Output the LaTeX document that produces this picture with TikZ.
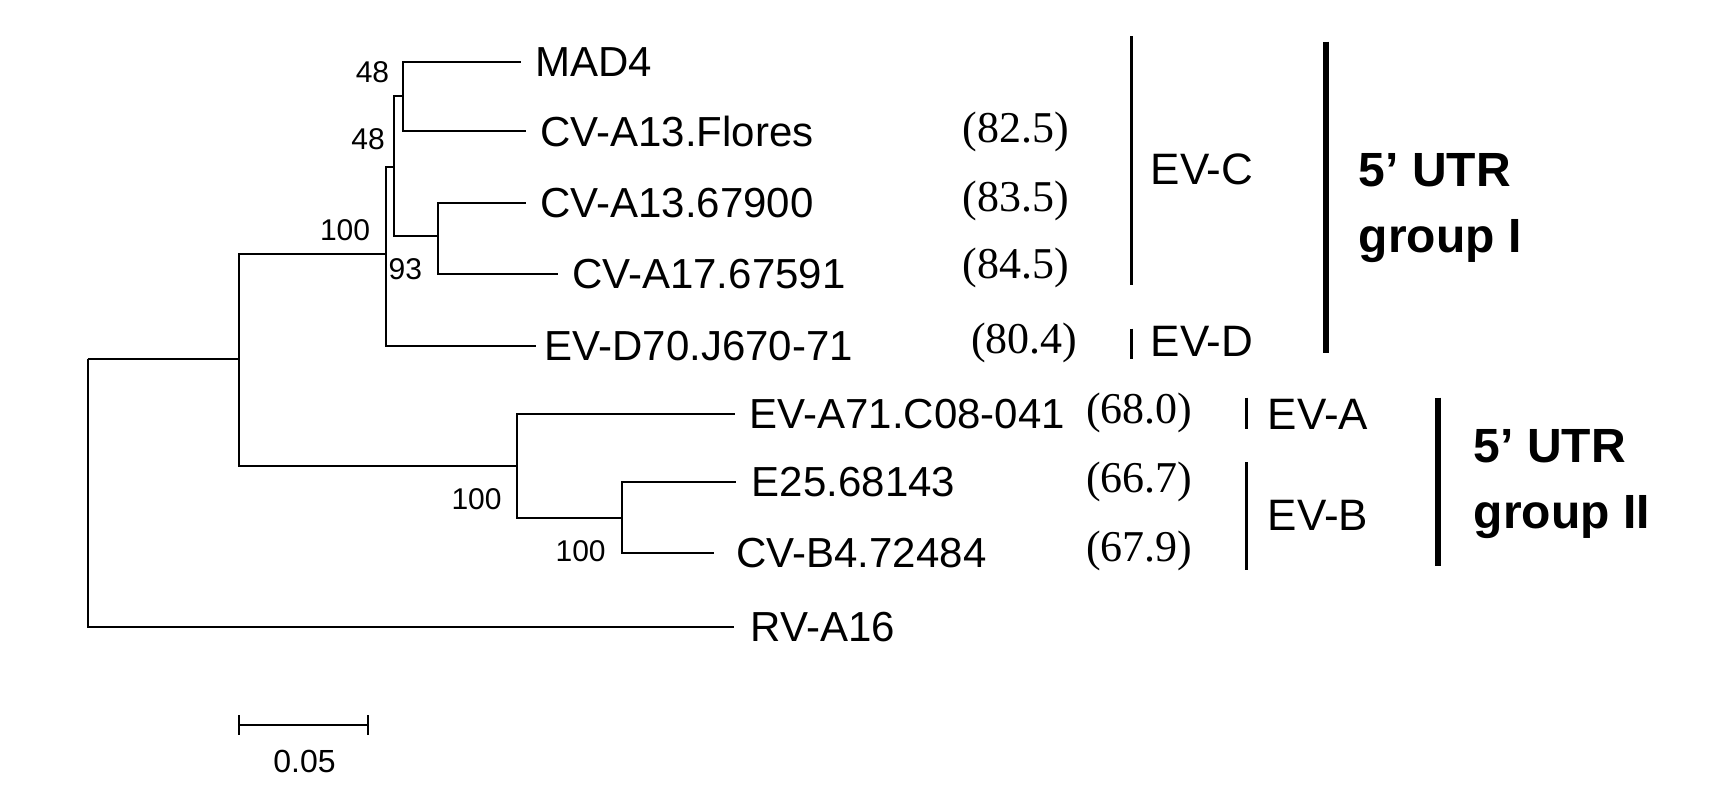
\documentclass[tikz,border=0pt]{standalone}
\usepackage{fontspec}
\setmainfont{Liberation Sans}
\newfontfamily\timesfont{Liberation Serif}
\tikzset{
  leaf/.style={anchor=west,inner sep=0pt,font=\fontsize{21}{24}\selectfont},
  boot/.style={inner sep=0pt,font=\fontsize{15}{17}\selectfont},
  pct/.style={inner sep=0pt,font=\timesfont\fontsize{22}{25}\selectfont},
  clade/.style={anchor=west,inner sep=0pt,font=\fontsize{22}{25}\selectfont},
  group/.style={anchor=west,align=left,inner sep=0pt,font=\bfseries\fontsize{24}{33}\selectfont},
  branch/.style={line width=1pt},
}
\begin{document}
\begin{tikzpicture}[x=0.5478pt,y=-0.5478pt]
\useasboundingbox (0,0) rectangle (1560,730);
% branch points
\coordinate (root) at (80,328);
\coordinate (nA) at (218,328);
\coordinate (nI) at (352,232);
\coordinate (nC) at (360,152);
\coordinate (nM) at (368,88);
\coordinate (nF) at (400,215);
\coordinate (nII) at (472,425);
\coordinate (nB) at (568,473);
% leaves
\node (mad) [leaf] at (488,57) {MAD4};
\node (flo) [leaf] at (493,120) {CV-A13.Flores};
\node (c67900) [leaf] at (493,185) {CV-A13.67900};
\node (c67591) [leaf] at (522,250) {CV-A17.67591};
\node (d70) [leaf] at (497,316) {EV-D70.J670-71};
\node (a71) [leaf] at (684,378) {EV-A71.C08-041};
\node (e25) [leaf] at (686,440) {E25.68143};
\node (b4) [leaf] at (672,505) {CV-B4.72484};
\node (rv) [leaf] at (685,572) {RV-A16};
%
\draw[branch] (root) |- ([xshift=-8pt]rv.west);
\draw[branch] (root) |- (nA);
\draw[branch] (nA) |- (nI);
\draw[branch] (nA) |- (nII);
\draw[branch] (nI) |- (nC);
\draw[branch] (nI) |- ([xshift=-4pt]d70.west);
\draw[branch] (nC) |- (nM);
\draw[branch] (nC) |- (nF);
\draw[branch] (nM) |- ([xshift=-7pt]mad.west);
\draw[branch] (nM) |- ([xshift=-7pt]flo.west);
\draw[branch] (nF) |- ([xshift=-7pt]c67900.west);
\draw[branch] (nF) |- ([xshift=-7pt]c67591.west);
\draw[branch] (nII) |- ([xshift=-7pt]a71.west);
\draw[branch] (nII) |- (nB);
\draw[branch] (nB) |- ([xshift=-8pt]e25.west);
\draw[branch] (nB) |- ([xshift=-11pt]b4.west);
% bootstrap values
\node (b48a) [boot] at (340,66) {48};
\node (b48b) [boot] at (336,127) {48};
\node (b100a) [boot] at (315,210) {100};
\node (b93) [boot] at (370,246) {93};
\node (b100b) [boot] at (435,456) {100};
\node (b100c) [boot] at (530,503) {100};
% identities
\node (p1) [pct] at (927,120) {(82.5)};
\node (p2) [pct] at (927,183) {(83.5)};
\node (p3) [pct] at (927,245) {(84.5)};
\node (p4) [pct] at (935,313) {(80.4)};
\node (p5) [pct] at (1040,377) {(68.0)};
\node (p6) [pct] at (1040,440) {(66.7)};
\node (p7) [pct] at (1040,503) {(67.9)};
% clades
\draw[line width=1.5pt] (1033,33) -- (1033,260);
\node (evc) [clade] at (1050,155) {EV-C};
\draw[line width=1.5pt] (1033,300) -- (1033,328);
\node (evd) [clade] at (1050,312) {EV-D};
\draw[line width=1.5pt] (1138,363) -- (1138,392);
\node (eva) [clade] at (1157,378) {EV-A};
\draw[line width=1.5pt] (1138,422) -- (1138,520);
\node (evb) [clade] at (1157,470) {EV-B};
\draw[line width=3pt] (1210,38) -- (1210,322);
\node (g1) [group] at (1240,190) {5’ UTR\\group I};
\draw[line width=3pt] (1313,363) -- (1313,517);
\node (g2) [group] at (1345,442) {5’ UTR\\group II};
% scale bar
\coordinate (s0) at (218,662);
\coordinate (s1) at (336,662);
\draw[branch] (s0) -- (s1);
\draw[branch] ([yshift=5pt]s0) -- ([yshift=-5pt]s0);
\draw[branch] ([yshift=5pt]s1) -- ([yshift=-5pt]s1);
\node (sc) [boot,font=\fontsize{16}{18}\selectfont] at (278,695) {0.05};
\end{tikzpicture}
\end{document}
